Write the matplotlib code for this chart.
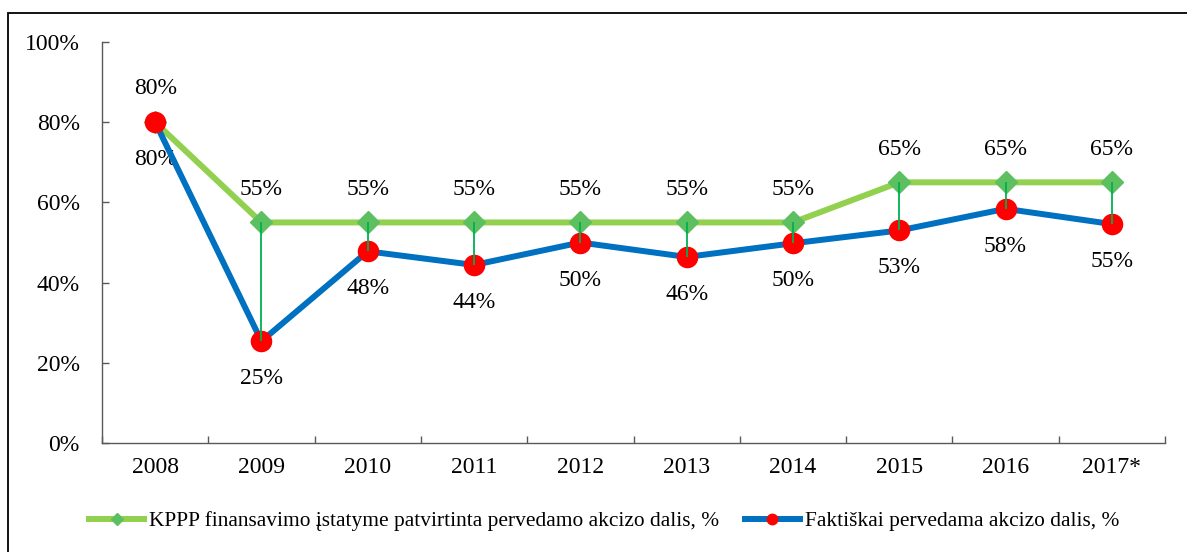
import matplotlib
matplotlib.use("Agg")
import matplotlib.pyplot as plt
from matplotlib.lines import Line2D
from matplotlib.patches import Rectangle

years = ["2008", "2009", "2010", "2011", "2012", "2013", "2014", "2015", "2016", "2017*"]
planned = [80, 55, 55, 55, 55, 55, 55, 65, 65, 65]
actual = [80, 25.4, 47.8, 44.4, 50, 46.4, 49.8, 53, 58.4, 54.6]
yticks = [0, 20, 40, 60, 80, 100]
label_planned = "KPPP finansavimo įstatyme patvirtinta pervedamo akcizo dalis, %"
label_actual = "Faktiškai pervedama akcizo dalis, %"

plt.rcParams['font.family'] = ['Liberation Serif', 'DejaVu Serif']

W, H = 1187, 552
fig = plt.figure(figsize=(W / 100, H / 100), dpi=100)
ax = fig.add_axes([102 / W, 1 - 443 / H, 1063 / W, 401 / H])

x = list(range(len(years)))
green_line = '#92D050'
green_mark = '#5CBF60'
blue = '#0070C0'
red = '#FF0000'
drop = '#00B050'
fs = 17
lfs = 15.4

ax.plot(x, planned, color=green_line, lw=4.3, marker='D', markersize=11,
        markerfacecolor=green_mark, markeredgecolor=green_mark, zorder=3)
ax.plot(x, actual, color=blue, lw=4.3, marker='o', markersize=14.5,
        markerfacecolor=red, markeredgecolor=red, zorder=4)
ax.vlines(x, actual, planned, color=drop, lw=1.3, zorder=5)

for xi, p, a in zip(x, planned, actual):
    ax.annotate(f"{p:.0f}%", (xi, p), xytext=(0, 24), textcoords='offset points',
                ha='center', va='center', fontsize=fs)
    ax.annotate(f"{a:.0f}%", (xi, a), xytext=(0, -27), textcoords='offset points',
                ha='center', va='center', fontsize=fs)

ax.set_xlim(-0.5, len(years) - 0.5)
ax.set_ylim(0, 100)
ax.set_yticks(yticks)
ax.set_yticklabels([f"{v}%" for v in yticks], fontsize=fs)
ax.set_xticks([i + 0.5 for i in range(-1, len(years))])
ax.set_xticklabels([])
ax.set_xticks(x, minor=True)
ax.set_xticklabels(years, minor=True, fontsize=fs)
ax.tick_params(axis='x', which='minor', length=0, pad=10)
ax.tick_params(axis='x', which='major', direction='in', length=5, color='#595959', width=1)
ax.tick_params(axis='y', direction='in', length=5, color='#595959', width=1, pad=16)
for s in ['top', 'right']:
    ax.spines[s].set_visible(False)
for s in ['left', 'bottom']:
    ax.spines[s].set_color('#595959')
    ax.spines[s].set_linewidth(1)

h1 = Line2D([], [], color=green_line, lw=4.3, marker='D', markersize=6,
            markerfacecolor=green_mark, markeredgecolor=green_mark)
h2 = Line2D([], [], color=blue, lw=4.3, marker='o', markersize=7.5,
            markerfacecolor=red, markeredgecolor=red)
fig.legend([h1, h2], [label_planned, label_actual], loc='center',
           bbox_to_anchor=(604 / W, 1 - 521 / H), ncol=2, frameon=False,
           fontsize=lfs, handlelength=2.57, handletextpad=0.23, columnspacing=1.2,
           borderpad=0, borderaxespad=0)

fig.patches.append(Rectangle((8 / W, -0.5), 2.0, 1.5 - 12.5 / H,
                             transform=fig.transFigure, fill=False,
                             edgecolor='black', lw=1.3))

fig.savefig("out.png", dpi=100)
